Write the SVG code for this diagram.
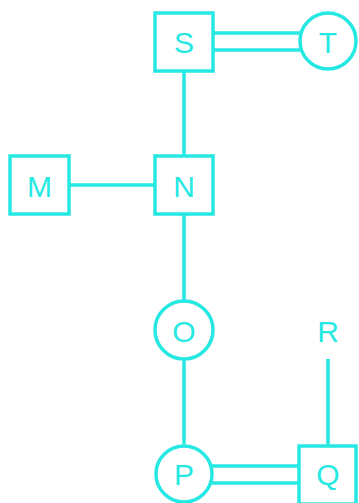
<svg xmlns="http://www.w3.org/2000/svg" width="359" height="503" viewBox="0 0 359 503">
<style>
.n{fill:#fff;stroke:#26e8e2;stroke-width:3.5}
.e{stroke:#26e8e2;stroke-width:3.5;fill:none}
.t{font-family:"Liberation Sans",Arial,sans-serif;font-size:30px;fill:#26e8e2;text-anchor:middle;dominant-baseline:central}
</style>
<rect width="359" height="503" fill="#fff"/>
<g id="connectors">
<line class="e" x1="213" y1="33" x2="300" y2="33"/>
<line class="e" x1="213" y1="50" x2="300" y2="50"/>
<line class="e" x1="184" y1="71" x2="184" y2="156"/>
<line class="e" x1="70" y1="185" x2="155" y2="185"/>
<line class="e" x1="184" y1="214" x2="184" y2="301"/>
<line class="e" x1="184" y1="359" x2="184" y2="444"/>
<line class="e" x1="328" y1="359" x2="328" y2="446"/>
<line class="e" x1="212" y1="466" x2="299" y2="466"/>
<line class="e" x1="212" y1="483" x2="299" y2="483"/>
</g>
<g id="S"><rect class="n" x="155" y="13" width="58" height="58"/><text class="t" x="184" y="42">S</text></g>
<g id="T"><circle class="n" cx="328" cy="41" r="28"/><text class="t" x="328" y="42">T</text></g>
<g id="M"><rect class="n" x="10" y="156" width="59" height="58"/><text class="t" x="39.5" y="186">M</text></g>
<g id="N"><rect class="n" x="155" y="156" width="58" height="58"/><text class="t" x="184" y="186">N</text></g>
<g id="O"><circle class="n" cx="184" cy="330" r="29"/><text class="t" x="184" y="331">O</text></g>
<g id="R"><text class="t" x="328" y="331">R</text></g>
<g id="P"><circle class="n" cx="184" cy="474" r="28"/><text class="t" x="184" y="474">P</text></g>
<g id="Q"><rect class="n" x="299" y="446" width="57" height="58"/><text class="t" x="328" y="474">Q</text></g>
</svg>
